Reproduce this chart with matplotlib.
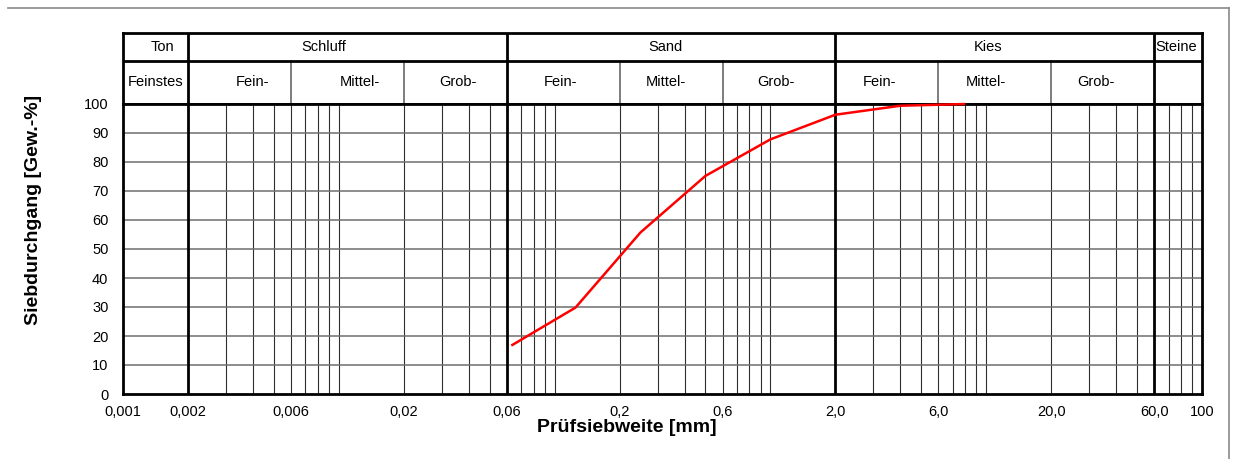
import matplotlib
matplotlib.use("Agg")
import matplotlib.pyplot as plt
from matplotlib.lines import Line2D
import numpy as np

plt.rcParams['font.family'] = ['Liberation Sans', 'DejaVu Sans']

# ---- data ----
sieve_mm = [0.063, 0.125, 0.25, 0.5, 1.0, 2.0, 4.0, 8.0]
passing_pct = [16.7, 29.8, 55.7, 75.2, 87.8, 96.3, 99.4, 100.0]

xtick_vals = [0.001, 0.002, 0.006, 0.02, 0.06, 0.2, 0.6, 2.0, 6.0, 20.0, 60.0, 100.0]
xtick_labels = ["0,001", "0,002", "0,006", "0,02", "0,06", "0,2", "0,6",
                "2,0", "6,0", "20,0", "60,0", "100"]
ytick_vals = list(range(0, 101, 10))

main_bounds = [0.002, 0.06, 2.0, 60.0]          # thick boundaries
sub_bounds = [0.006, 0.02, 0.2, 0.6, 6.0, 20.0]  # sub-fraction boundaries

row1_labels = ["Ton", "Schluff", "Sand", "Kies", "Steine"]
row1_pos = [0.00153, 0.00854, 0.325, 10.2, 75.8]
row2_labels = ["Feinstes", "Fein-", "Mittel-", "Grob-", "Fein-", "Mittel-", "Grob-",
               "Fein-", "Mittel-", "Grob-"]
row2_pos = [0.00142, 0.0040, 0.01254, 0.0357, 0.106, 0.328, 1.062, 3.22, 9.98, 32.3]

# ---- figure ----
W, H = 1233, 459
fig = plt.figure(figsize=(W / 100, H / 100), dpi=100)
fig.patch.set_facecolor("white")

L, R, T_head, T_plot, B = 123, 1202, 33, 104, 394
ax = fig.add_axes([L / W, 1 - B / H, (R - L) / W, (B - T_plot) / H])
hx = fig.add_axes([L / W, 1 - T_plot / H, (R - L) / W, (T_plot - T_head) / H])
hx.set_zorder(1)
ax.set_zorder(2)

for a in (ax, hx):
    a.set_xscale("log")
    a.set_xlim(0.001, 100)
    for s in a.spines.values():
        s.set_linewidth(2.0)
        s.set_color("black")
        s.set_zorder(10)

ax.set_ylim(0, 100)

# minor vertical grid lines (log multiples), excluding the clay area
minor = []
for dec in [0.001, 0.01, 0.1, 1.0, 10.0]:
    for m in range(1, 10):
        v = round(m * dec, 6)
        if 0.002 < v < 100 and v not in main_bounds:
            minor.append(v)
for v in minor:
    ax.axvline(v, color="#2e2e2e", lw=0.8, zorder=1)
for v in main_bounds:
    ax.axvline(v, color="black", lw=2.0, zorder=3)
for y in ytick_vals[1:-1]:
    ax.axhline(y, color="#6e6e6e", lw=1.1, zorder=2)

# curve
ax.plot(sieve_mm, passing_pct, color="#ff0000", lw=1.8, zorder=12,
        clip_on=False, solid_capstyle="butt")

ax.set_xticks(xtick_vals)
ax.set_xticklabels(xtick_labels)
ax.xaxis.set_minor_locator(matplotlib.ticker.NullLocator())
ax.set_yticks(ytick_vals)
ax.set_yticklabels([str(v) for v in ytick_vals])
ax.tick_params(axis="x", length=0, pad=8, labelsize=10.5)
ax.tick_params(axis="y", length=0, pad=10.5, labelsize=10.5)

# header
hx.set_ylim(0, 1)
hx.set_xticks([])
hx.set_yticks([])
hx.xaxis.set_minor_locator(matplotlib.ticker.NullLocator())
split = 43 / 71
hx.axhline(split, color="black", lw=2.0, zorder=4)
for v in main_bounds:
    hx.axvline(v, color="black", lw=2.0, zorder=4)
for v in sub_bounds:
    hx.plot([v, v], [0, split], color="#5a5a5a", lw=1.1, zorder=3)
for lab, xp in zip(row1_labels, row1_pos):
    hx.text(xp, (71 - 14) / 71, lab, ha="center", va="center", fontsize=10.5)
for lab, xp in zip(row2_labels, row2_pos):
    hx.text(xp, (71 - 49) / 71, lab, ha="center", va="center", fontsize=10.5)

# axis titles
fig.text(34 / W, 1 - 210 / H, "Siebdurchgang [Gew.-%]", rotation=90,
         ha="center", va="center", fontsize=14, fontweight="bold")
fig.text(627 / W, 1 - 427 / H, "Prüfsiebweite [mm]",
         ha="center", va="center", fontsize=14, fontweight="bold")

# outer frame (top and right)
fig.add_artist(Line2D([8 / W, 1229 / W], [1 - 7.5 / H, 1 - 7.5 / H],
                      color="#8a8a8a", lw=1.2))
fig.add_artist(Line2D([1229 / W, 1229 / W], [0, 1 - 7.5 / H],
                      color="#8a8a8a", lw=1.2))

fig.savefig("out.png", dpi=100)
